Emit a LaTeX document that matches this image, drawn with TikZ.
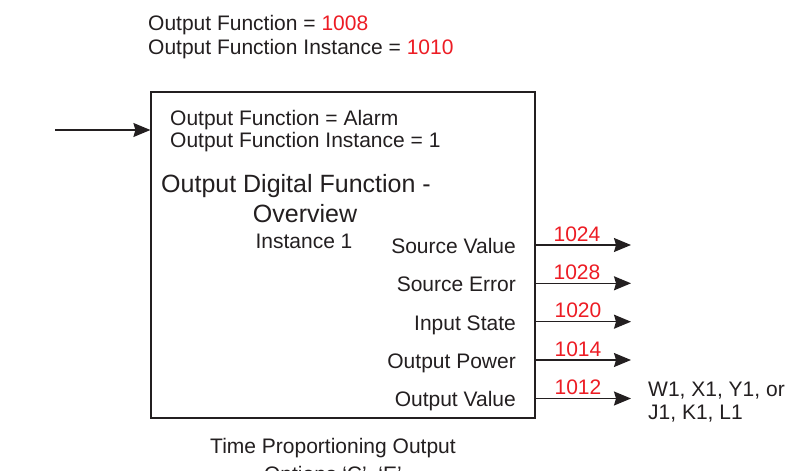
\documentclass[tikz,border=0pt]{standalone}
\usepackage{fontspec}
\setmainfont{Liberation Sans}
\usetikzlibrary{arrows.meta}
\definecolor{ink}{HTML}{231F20}
\definecolor{numred}{HTML}{ED1C24}
\begin{document}
\begin{tikzpicture}[x=1pt,y=-1pt,
  txt/.style={inner sep=0pt, text=ink, font=\fontsize{21}{25}\selectfont},
  ttl/.style={inner sep=0pt, text=ink, font=\fontsize{25}{30}\selectfont},
  num/.style={inner sep=0pt, text=numred, font=\fontsize{21}{25}\selectfont, anchor=base},
  lbl/.style={txt, anchor=base east},
  blk/.style={draw=ink, line width=1.2pt, minimum width=384pt, minimum height=326pt, inner sep=0pt},
  arr/.style={draw=ink, line width=1.3pt, -{Stealth[length=17pt,width=14pt,inset=2pt]}}
]
\useasboundingbox (0,0) rectangle (796,471);
\fill[white] (0,0) rectangle (796,471);

% top header
\node[txt, anchor=base west] (h1) at (148,30.5) {Output Function = \textcolor{numred}{1008}};
\node[txt, anchor=base west] (h2) at (148,54.5) {Output Function Instance = \textcolor{numred}{1010}};

% main block
\node[blk] (box) at (343,255) {};

% input arrow
\coordinate (inp) at (55,130);
\draw[arr] (inp) -- (inp -| box.west);

% text inside block
\node[txt, anchor=base west] (b1) at (170,125) {Output Function = Alarm};
\node[txt, anchor=base west] (b2) at (170,147) {Output Function Instance = 1};
\node[ttl, anchor=base west] (t1) at (161,192) {Output Digital Function -};
\node[ttl, anchor=base] (t2) at (305,222) {Overview};
\node[txt, anchor=base] (t3) at (304,248) {Instance 1};

% outputs
\node[lbl] (l1) at (516,253) {Source Value};
\node[lbl] (l2) at (516,291.5) {Source Error};
\node[lbl] (l3) at (516,330) {Input State};
\node[lbl] (l4) at (516,368) {Output Power};
\node[lbl] (l5) at (516,406) {Output Value};

\coordinate (o1) at (631,245);
\coordinate (o2) at (631,283.3);
\coordinate (o3) at (631,321.7);
\coordinate (o4) at (631,360);
\coordinate (o5) at (631,398.5);
\foreach \i in {1,...,5} {\draw[arr] (o\i -| box.east) -- (o\i);}

\node[num] (n1) at (577,241) {1024};
\node[num] (n2) at (577,279.3) {1028};
\node[num] (n3) at (578,317.7) {1020};
\node[num] (n4) at (578,356) {1014};
\node[num] (n5) at (578,394.5) {1012};

\node[txt, anchor=base west] (w1) at (648,396) {W1, X1, Y1, or};
\node[txt, anchor=base west] (w2) at (648,419) {J1, K1, L1};

% caption (cut off at bottom, as in the reference)
\node[txt, anchor=base] (c1) at (333,453) {Time Proportioning Output};
\node[txt, anchor=base] (c2) at (333,481) {Options ‘C’, ‘E’};
\end{tikzpicture}
\end{document}
